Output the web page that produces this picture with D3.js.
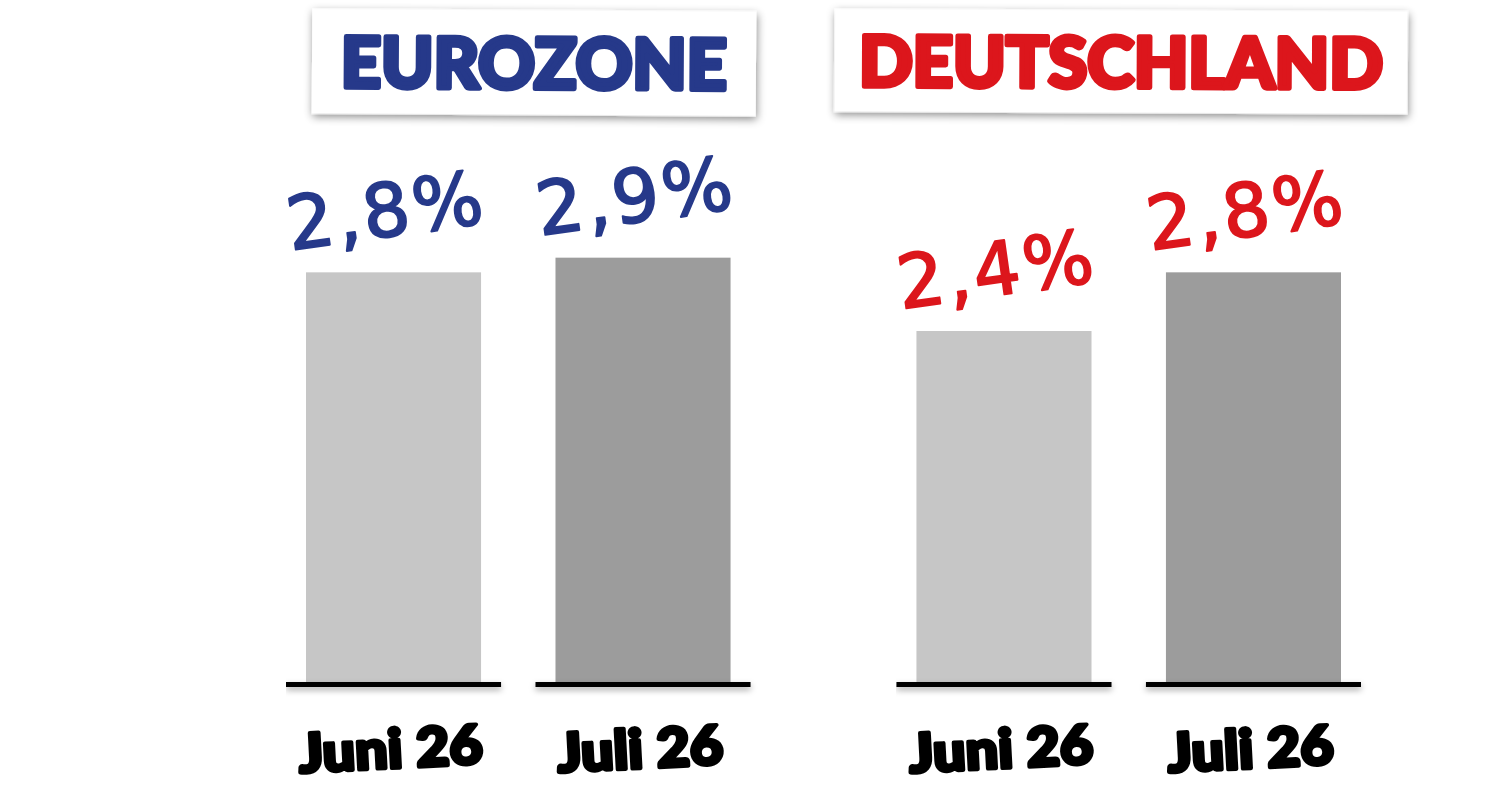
<!DOCTYPE html>
<html>
<head>
<meta charset="utf-8">
<script src="https://cdn.jsdelivr.net/npm/d3@7/dist/d3.min.js"></script>
<style>
  html, body { margin: 0; padding: 0; background: #ffffff; }
  svg { display: block; }
</style>
</head>
<body>
<script>
// ---- data ----
const regions = ["EUROZONE", "DEUTSCHLAND"];
const months = ["Juni 26", "Juli 26"];
const eurozoneValues = [2.8, 2.9];
const deutschlandValues = [2.4, 2.8];
const regionColors = ["#26398a", "#dc161c"];
const monthColors = ["#c6c6c6", "#9c9c9c"];

const W = 1504, H = 788;
const svg = d3.select("body").append("svg").attr("width", W).attr("height", H);

const defs = svg.append("defs");
const f1 = defs.append("filter").attr("id", "boxShadow")
  .attr("x", "-10%").attr("y", "-20%").attr("width", "120%").attr("height", "150%");
f1.append("feDropShadow").attr("dx", 1).attr("dy", 3).attr("stdDeviation", 4)
  .attr("flood-color", "#000").attr("flood-opacity", 0.45);
const f2 = defs.append("filter").attr("id", "lineShadow")
  .attr("filterUnits", "userSpaceOnUse")
  .attr("x", 0).attr("y", 600).attr("width", W).attr("height", 150);
f2.append("feDropShadow").attr("dx", 0).attr("dy", 3).attr("stdDeviation", 3)
  .attr("flood-color", "#000").attr("flood-opacity", 0.35);

const series = [eurozoneValues, deutschlandValues];
const panels = regions.map((r, i) => ({
  region: r, color: regionColors[i],
  items: months.map((m, j) => ({ month: m, value: series[i][j], fill: monthColors[j] }))
}));

const x0 = d3.scaleBand().domain(regions).range([286, 1361]).paddingInner(0.239).paddingOuter(0);
const x1 = d3.scaleBand().domain(months).range([0, x0.bandwidth()]).paddingInner(0.138).paddingOuter(0);
const y = d3.scaleLinear().domain([0, 3]).range([683, 243]);

const barInset = 20;
const fmt = d3.formatLocale({ decimal: ",", thousands: ".", grouping: [3], currency: ["", "€"] }).format(".1f");

// title layout (position/style only)
const titleLayout = {
  EUROZONE: { cx: 534, w: 444, h: 105, textW: 390, rot: 0.35 },
  DEUTSCHLAND: { cx: 1121, w: 573, h: 103, textW: 528, rot: 0.25 }
};

const g = svg.selectAll("g.panel").data(panels).join("g")
  .attr("class", "panel")
  .attr("transform", d => `translate(${x0(d.region)},0)`);

// title boxes
svg.selectAll("g.title").data(panels).join("g")
  .attr("class", "title")
  .each(function (d) {
    const L = titleLayout[d.region];
    const t = d3.select(this).attr("transform", `translate(${L.cx},${10 + L.h / 2}) rotate(${L.rot})`);
    t.append("rect")
      .attr("x", -L.w / 2).attr("y", -L.h / 2).attr("width", L.w).attr("height", L.h)
      .attr("fill", "#ffffff").attr("filter", "url(#boxShadow)");
    t.append("text")
      .attr("x", 0).attr("y", 26)
      .attr("text-anchor", "middle")
      .attr("font-family", "Lato, 'Noto Sans', sans-serif")
      .attr("font-weight", 900)
      .attr("font-size", 70)
      .attr("fill", d.color)
      .attr("stroke", d.color).attr("stroke-width", 5).attr("stroke-linejoin", "round")
      .attr("textLength", L.textW - 4).attr("lengthAdjust", "spacingAndGlyphs")
      .text(d.region);
  });

// bars
g.selectAll("rect.bar").data(d => d.items).join("rect")
  .attr("class", "bar")
  .attr("x", d => x1(d.month) + barInset)
  .attr("width", x1.bandwidth() - 2 * barInset)
  .attr("y", d => y(d.value))
  .attr("height", d => y(0) - y(d.value))
  .attr("fill", d => d.fill);

// baselines
g.selectAll("rect.base").data(d => d.items).join("rect")
  .attr("class", "base")
  .attr("x", d => x1(d.month)).attr("width", x1.bandwidth())
  .attr("y", y(0) - 1).attr("height", 5)
  .attr("fill", "#000")
  .attr("filter", "url(#lineShadow)");

// value labels
g.each(function (p) {
  d3.select(this).selectAll("text.val").data(p.items).join("text")
    .attr("class", "val")
    .attr("transform", d => `translate(${x1(d.month) + x1.bandwidth() / 2 - 4},${y(d.value) - 36}) rotate(-8)`)
    .attr("text-anchor", "middle")
    .attr("font-family", "'DejaVu Sans', sans-serif")
    .attr("font-size", 74)
    .attr("fill", p.color)
    .attr("stroke", p.color).attr("stroke-width", 2).attr("stroke-linejoin", "round")
    .attr("letter-spacing", 3)
    .text(d => fmt(d.value) + "%");
});

// month labels
g.selectAll("text.cat").data(d => d.items).join("text")
  .attr("class", "cat")
  .attr("transform", d => `translate(${x1(d.month) + x1.bandwidth() / 2 - 2},${768}) rotate(-3)`)
  .attr("text-anchor", "middle")
  .attr("font-family", "Lato, 'Noto Sans', sans-serif")
  .attr("font-weight", 900)
  .attr("font-size", 54)
  .attr("fill", "#000")
  .attr("stroke", "#000").attr("stroke-width", 4).attr("stroke-linejoin", "round")
  .attr("textLength", d => d.month.startsWith("Juni") ? 184 : 166)
  .attr("lengthAdjust", "spacingAndGlyphs")
  .text(d => d.month);
</script>
</body>
</html>
